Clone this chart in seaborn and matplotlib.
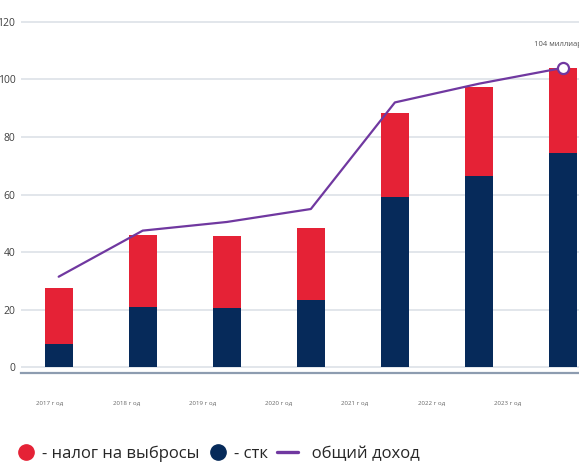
import numpy as np
import pandas as pd
import matplotlib
matplotlib.use("Agg")
import matplotlib.pyplot as plt
from matplotlib.lines import Line2D
import seaborn as sns

# Data (billions)
years = ["2017 г од", "2018 г од", "2019 г од", "2020 г од", "2021 г од", "2022 г од", "2023 г од"]
stk = [8, 21, 20.5, 23.5, 59, 66.5, 74.5]             # navy part
emission_tax = [19.5, 25, 25, 25, 29.5, 31, 29.5]     # red part
total_income = [31.5, 47.5, 50.5, 55, 92, 98.5, 104]  # purple line
y_ticks = [0, 20, 40, 60, 80, 100, 120]
peak_label = "104 миллиарда"

red = "#e52236"
navy = "#062a5a"
purple = "#7038a0"

sns.set_style("white")
plt.rcParams["font.family"] = ["Open Sans", "DejaVu Sans"]

df = pd.DataFrame({"year": years, "stk": stk, "tax": emission_tax, "income": total_income})
df["stack_top"] = df["stk"] + df["tax"]

fig = plt.figure(figsize=(5.79, 4.65), dpi=100)
ax = fig.add_axes([0.036, 0.198, 0.964, 0.78])

# stacked bars: full height in red, navy on top of it from zero
sns.barplot(data=df, x="year", y="stack_top", color=red, width=0.33, saturation=1,
            linewidth=0, ax=ax, zorder=2)
sns.barplot(data=df, x="year", y="stk", color=navy, width=0.33, saturation=1,
            linewidth=0, ax=ax, zorder=3)

pos = np.arange(len(years))
sns.lineplot(x=pos, y=df["income"], color=purple, linewidth=1.6, ax=ax, zorder=4)
ax.plot(pos[-1], total_income[-1], "o", ms=8, mfc="white", mec=purple, mew=1.6, zorder=5)
ax.annotate(peak_label, (pos[-1], total_income[-1]), xytext=(-21, 17), textcoords="offset points",
            fontsize=5.5, color="#555555", va="center", ha="left", annotation_clip=False)

ax.set_xlim(-0.45, 6.19)
ax.set_ylim(-1.9, 124)
ax.set_yticks(y_ticks)
ax.set_yticklabels([str(t) for t in y_ticks], fontsize=7.5, color="#404040")
ax.tick_params(axis="y", length=0, pad=4)
ax.yaxis.grid(True, color="#dde1e7", linewidth=1.2, zorder=0)
ax.set_axisbelow(True)
ax.set_xticks([])
ax.set_xlabel("")
ax.set_ylabel("")
for side in ["top", "right", "left"]:
    ax.spines[side].set_visible(False)
ax.spines["bottom"].set_color("#8d9cb0")
ax.spines["bottom"].set_linewidth(1.6)

# year labels sit on their own, slightly tighter spacing than the bars
ax2 = ax.twiny()
ax2.set_xlim(-0.38, 6.94)
ax2.xaxis.set_ticks_position("bottom")
ax2.set_xticks(pos)
ax2.set_xticklabels(years, fontsize=4.4, color="#666666")
ax2.tick_params(axis="x", length=0, pad=20)
for side in ax2.spines:
    ax2.spines[side].set_visible(False)

handles = [
    Line2D([], [], marker="o", ls="", ms=11, color=red),
    Line2D([], [], marker="o", ls="", ms=11, color=navy),
    Line2D([], [], color=purple, lw=2.4),
]
fig.legend(handles, ["- налог на выбросы", "- стк", "  общий доход"], ncol=3, frameon=False,
           loc="lower left", bbox_to_anchor=(0.0, -0.025), fontsize=12,
           handlelength=1.3, handletextpad=0.3, columnspacing=0.5)

fig.savefig("out.png", dpi=100)
